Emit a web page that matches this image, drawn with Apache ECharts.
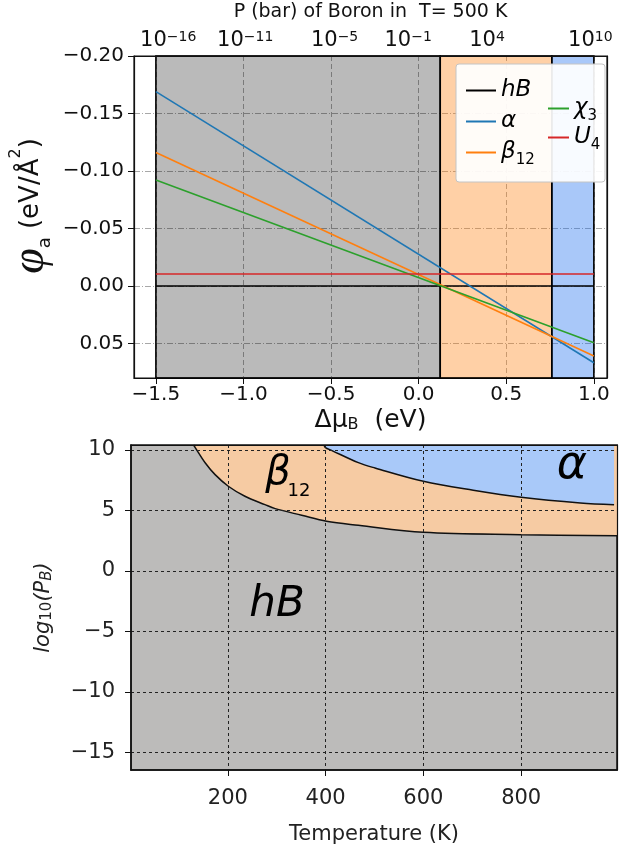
<!DOCTYPE html>
<html><head><meta charset="utf-8">
<script src="https://cdn.jsdelivr.net/npm/echarts@6/dist/echarts.min.js"></script>
<style>html,body{margin:0;padding:0;background:#fff}#c{width:635px;height:856px}</style>
</head><body><div id="c"></div>
<script>
// ---- top panel data ----
const muEnds = [-1.5, 1.0];
const hB = [0, 0];
const alphaPhi = [-0.169, 0.0667];
const beta12Phi = [-0.116, 0.0609];
const chi3Phi = [-0.0922, 0.0493];
const U4Phi = [-0.0104, -0.0104];
const phaseEdges = [-1.5, 0.123, 0.76, 1.0];
const muTicks = [-1.5, -1.0, -0.5, 0.0, 0.5, 1.0];
const phiTicks = [-0.20, -0.15, -0.10, -0.05, 0.00, 0.05];
const pTickPos = [-1.43, -0.99, -0.48, -0.06, 0.39, 0.98];
const pTickExp = ['-16', '-11', '-5', '-1', '4', '10'];
// ---- bottom panel data ----
const betaBoundT = [130, 133, 154, 174, 201, 235, 276, 297, 351, 402, 467, 600, 800, 996];
const betaBoundP = [10.41, 10.22, 8.92, 7.96, 7.0, 6.17, 5.48, 5.15, 4.6, 4.1, 3.77, 3.19, 3.0, 2.91];
const alphaBoundT = [397, 399, 413, 467, 501, 600, 702, 800, 921, 990];
const alphaBoundP = [10.41, 10.22, 9.95, 8.95, 8.51, 7.41, 6.67, 6.09, 5.62, 5.48];
const tempTicks = [200, 400, 600, 800];
const logPTicks = [-15, -10, -5, 0, 5, 10];

const FF = 'DejaVu Sans';
const pairs = (xs, ys) => xs.map((x, i) => [x, ys[i]]);
const neg = s => String(s).replace('-', '\u2212');
const chart = echarts.init(document.getElementById('c'), null, {renderer: 'canvas'});

const frameAxis = (gi, pos, extra) => Object.assign({
  type: 'value', gridIndex: gi, position: pos, z: 10,
  axisLine: {show: true, onZero: false, lineStyle: {color: '#111', width: 1.2}},
  axisTick: {show: false}, axisLabel: {show: false}, splitLine: {show: false}
}, extra || {});

const lineSeries = (name, ys, color) => ({
  name, type: 'line', xAxisIndex: 0, yAxisIndex: 0, data: pairs(muEnds, ys),
  symbol: 'none', z: 2, lineStyle: {color, width: 1.6}, itemStyle: {color}
});

const legendRich = {
  i: {fontFamily: FF, fontStyle: 'italic', fontSize: 23, color: '#000'},
  s: {fontFamily: FF, fontSize: 15, color: '#000', verticalAlign: 'bottom', padding: [16, 0, 0, 0]}
};
const legendFmt = n => ({
  'hB': '{i|hB}', 'α': '{i|α}', 'β12': '{i|β}{s|12}', 'χ3': '{i|χ}{s|3}', 'U4': '{i|U}{s|4}'
})[n];

const option = {
  backgroundColor: '#fff',
  animation: false,
  textStyle: {fontFamily: FF},
  grid: [
    {left: 134, right: 28, top: 56, bottom: 478, containLabel: false, outerBoundsMode: 'none',
     show: true, backgroundColor: '#fff', borderColor: '#111', borderWidth: 1.2},
    {left: 131, right: 18, top: 445, bottom: 86, containLabel: false, outerBoundsMode: 'none',
     show: true, backgroundColor: '#bcbbba', borderColor: '#111', borderWidth: 1.5}
  ],
  xAxis: [
    {type: 'value', gridIndex: 0, position: 'bottom', min: -1.625, max: 1.075,
     axisLine: {show: true, onZero: false, lineStyle: {color: '#111', width: 1.2}},
     axisTick: {show: true, length: 6, customValues: muTicks, lineStyle: {color: '#111'}},
     axisLabel: {customValues: muTicks, margin: 7, fontSize: 20, color: '#111', fontFamily: FF,
       formatter: v => neg(v.toFixed(1))},
     splitLine: {show: true, lineStyle: {color: '#a8a8a8', width: 1, type: [5, 3]}},
     name: '{t|Δμ}{s|B}{t|  (eV)}', nameLocation: 'middle', nameGap: 29, nameMoveOverlap: false,
     nameTextStyle: {rich: {
       t: {fontFamily: FF, fontSize: 25, color: '#111'},
       s: {fontFamily: FF, fontSize: 16, color: '#111', verticalAlign: 'bottom', padding: [10, 0, 0, 0]}
     }}},
    {type: 'value', gridIndex: 0, position: 'top', min: -1.625, max: 1.075, z: 10,
     axisLine: {show: true, onZero: false, lineStyle: {color: '#111', width: 1.2}},
     axisTick: {show: false, customValues: pTickPos},
     axisLabel: {customValues: pTickPos, margin: 4, fontFamily: FF,
       formatter: v => {
         let k = 0;
         pTickPos.forEach((p, i) => { if (Math.abs(p - v) < Math.abs(pTickPos[k] - v)) k = i; });
         return '{b|10}{s|' + neg(pTickExp[k]) + '}';
       },
       rich: {
         b: {fontFamily: FF, fontSize: 21, color: '#111'},
         s: {fontFamily: FF, fontSize: 14, color: '#111', verticalAlign: 'top', padding: [0, 0, 8, 0]}
       }},
     splitLine: {show: false},
     name: 'P (bar) of Boron in  T= 500 K', nameLocation: 'middle', nameGap: 34, nameMoveOverlap: false,
     nameTextStyle: {fontFamily: FF, fontSize: 19, color: '#111'}},
    {type: 'value', gridIndex: 1, position: 'bottom', min: 2, max: 996, z: 10,
     axisLine: {show: true, onZero: false, lineStyle: {color: '#111', width: 1.5}},
     axisTick: {show: true, length: 6, customValues: tempTicks, lineStyle: {color: '#111'}},
     axisLabel: {customValues: tempTicks, margin: 18, fontSize: 21, color: '#222', fontFamily: FF},
     splitLine: {show: true, lineStyle: {color: '#222', width: 1, type: [3, 3]}},
     name: 'Temperature (K)', nameLocation: 'middle', nameGap: 54, nameMoveOverlap: false,
     nameTextStyle: {fontFamily: FF, fontSize: 21, color: '#222'}},
    frameAxis(1, 'top', {min: 2, max: 996})
  ],
  yAxis: [
    {type: 'value', gridIndex: 0, position: 'left', inverse: true, min: -0.2, max: 0.08,
     axisLine: {show: true, onZero: false, lineStyle: {color: '#111', width: 1.2}},
     axisTick: {show: true, length: 6, customValues: phiTicks, lineStyle: {color: '#111'}},
     axisLabel: {customValues: phiTicks, margin: 10, fontSize: 20, color: '#111', fontFamily: FF,
       formatter: v => neg(v.toFixed(2))},
     splitLine: {show: true, lineStyle: {color: '#a8a8a8', width: 1, type: [6, 2, 1, 2]}},
     name: '{p|\u03C6}{a|a}{t| (eV/Å}{u|2}{t|)}', nameLocation: 'middle', nameRotate: 90, nameGap: 80,
     nameMoveOverlap: false,
     nameTextStyle: {padding: [0, 0, 0, 22], rich: {
       p: {fontFamily: 'Liberation Serif', fontStyle: 'italic', fontSize: 46, color: '#111'},
       a: {fontFamily: FF, fontSize: 18, color: '#111', verticalAlign: 'bottom', padding: [12, 0, 0, 0]},
       t: {fontFamily: FF, fontSize: 26, color: '#111'},
       u: {fontFamily: FF, fontSize: 16, color: '#111', verticalAlign: 'top', padding: [0, 0, 12, 0]}
     }}},
    frameAxis(0, 'right', {min: -0.2, max: 0.08}),
    {type: 'value', gridIndex: 1, position: 'left', min: -16.46, max: 10.41, z: 10,
     axisLine: {show: true, onZero: false, lineStyle: {color: '#111', width: 1.5}},
     axisTick: {show: true, length: 6, customValues: logPTicks, lineStyle: {color: '#111'}},
     axisLabel: {customValues: logPTicks, margin: 16, fontSize: 21, color: '#222', fontFamily: FF,
       formatter: v => neg(v)},
     splitLine: {show: true, lineStyle: {color: '#222', width: 1, type: [3, 3]}},
     name: '{i|log}{n|10}{i|(P}{b|B}{i|)}', nameLocation: 'middle', nameRotate: 90, nameGap: 76,
     nameMoveOverlap: false,
     nameTextStyle: {rich: {
       i: {fontFamily: FF, fontStyle: 'italic', fontSize: 21, color: '#222'},
       n: {fontFamily: FF, fontSize: 15, color: '#222', verticalAlign: 'bottom', padding: [8, 0, 0, 0]},
       b: {fontFamily: FF, fontStyle: 'italic', fontSize: 15, color: '#222', verticalAlign: 'bottom', padding: [8, 0, 0, 0]}
     }}},
    frameAxis(1, 'right', {min: -16.46, max: 10.41})
  ],
  legend: [
    {data: ['hB', 'α', 'β12'], orient: 'vertical', left: 461, top: 74, itemGap: 8, z: 21,
     icon: 'rect', itemWidth: 30, itemHeight: 2, selectedMode: false, formatter: legendFmt,
     textStyle: {rich: legendRich}},
    {data: ['χ3', 'U4'], orient: 'vertical', left: 543, top: 92, itemGap: 2, z: 21,
     icon: 'rect', itemWidth: 21, itemHeight: 2, selectedMode: false, formatter: legendFmt,
     textStyle: {rich: legendRich}}
  ],
  graphic: [
    {type: 'rect', z: 20, shape: {x: 456, y: 64, width: 149, height: 118, r: 3},
     style: {fill: 'rgba(255,255,255,0.92)', stroke: '#c4c4c4', lineWidth: 1}},
    {type: 'text', z: 20, x: 277, y: 605, style: {text: 'hB', fontFamily: FF, fontStyle: 'italic', fontSize: 42, fill: '#000', align: 'center', verticalAlign: 'middle'}},
    {type: 'text', z: 20, x: 278, y: 474, style: {text: 'β', fontFamily: FF, fontStyle: 'italic', fontSize: 40, fill: '#000', align: 'center', verticalAlign: 'middle'}},
    {type: 'text', z: 20, x: 299, y: 491, style: {text: '12', fontFamily: FF, fontSize: 18, fill: '#000', align: 'center', verticalAlign: 'middle'}},
    {type: 'text', z: 20, x: 572, y: 466, style: {text: 'α', fontFamily: FF, fontStyle: 'italic', fontSize: 46, fill: '#000', align: 'center', verticalAlign: 'middle'}}
  ],
  series: [
    lineSeries('hB', hB, '#000000'),
    lineSeries('α', alphaPhi, '#1f77b4'),
    lineSeries('β12', beta12Phi, '#ff7f0e'),
    lineSeries('χ3', chi3Phi, '#2ca02c'),
    lineSeries('U4', U4Phi, '#d62728'),
    {name: 'regions', type: 'line', xAxisIndex: 0, yAxisIndex: 0, data: [], z: 3, silent: true,
     markArea: {silent: true, data: [
       [{xAxis: phaseEdges[0], itemStyle: {color: 'rgba(0,0,0,0.27)', borderColor: '#000', borderWidth: 1.6}}, {xAxis: phaseEdges[1]}],
       [{xAxis: phaseEdges[1], itemStyle: {color: 'rgba(255,127,14,0.37)', borderColor: '#000', borderWidth: 1.6}}, {xAxis: phaseEdges[2]}],
       [{xAxis: phaseEdges[2], itemStyle: {color: 'rgba(30,110,240,0.38)', borderColor: '#000', borderWidth: 1.6}}, {xAxis: phaseEdges[3]}]
     ]}},
    {name: 'β12 region', type: 'line', xAxisIndex: 2, yAxisIndex: 2, data: pairs(betaBoundT, betaBoundP),
     symbol: 'none', smooth: 0.35, z: 2,
     lineStyle: {color: '#111', width: 1.5}, areaStyle: {color: '#f6cba3', opacity: 1, origin: 'end'}},
    {name: 'α region', type: 'line', xAxisIndex: 2, yAxisIndex: 2, data: pairs(alphaBoundT, alphaBoundP),
     symbol: 'none', smooth: 0.35, z: 3,
     lineStyle: {color: '#111', width: 1.5}, areaStyle: {color: '#a9c9f9', opacity: 1, origin: 'end'}}
  ]
};
chart.setOption(option);
</script></body></html>
